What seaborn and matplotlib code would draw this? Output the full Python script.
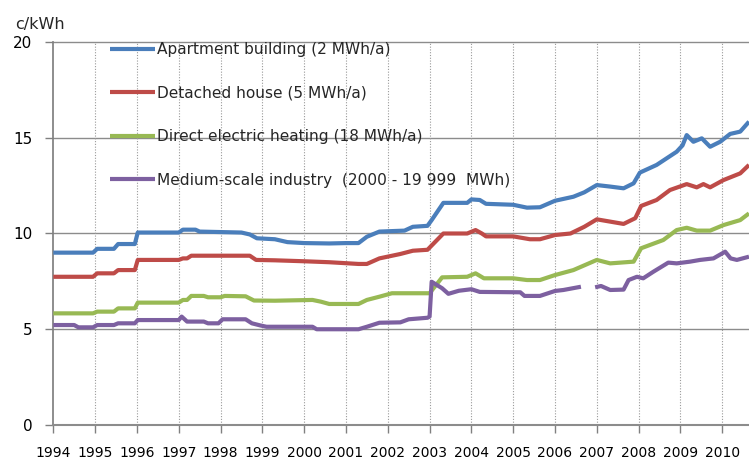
import numpy as np
import pandas as pd
import matplotlib
matplotlib.use("Agg")
import matplotlib.pyplot as plt
import seaborn as sns

# Electricity prices, c/kWh
apartment_years = [1994.0, 1994.95, 1995.05, 1995.45, 1995.55, 1995.95, 1996.02, 1997.0, 1997.1, 1997.4,
                   1997.5, 1998.5, 1998.7, 1998.87, 1999.3, 1999.6, 2000.0, 2000.6, 2001.0, 2001.3,
                   2001.5, 2001.8, 2002.4, 2002.6, 2002.95, 2003.05, 2003.33, 2003.9, 2004.0, 2004.2,
                   2004.35, 2005.0, 2005.33, 2005.64, 2006.0, 2006.44, 2006.7, 2007.0, 2007.32, 2007.64,
                   2007.88, 2008.03, 2008.43, 2008.91, 2009.05, 2009.15, 2009.31, 2009.51, 2009.71, 2009.95,
                   2010.19, 2010.43, 2010.64]
apartment = [9.0, 9.0, 9.2, 9.2, 9.45, 9.45, 10.05, 10.05, 10.2, 10.2,
             10.1, 10.05, 9.95, 9.75, 9.7, 9.55, 9.5, 9.48, 9.5, 9.5,
             9.83, 10.1, 10.15, 10.35, 10.4, 10.7, 11.6, 11.6, 11.78, 11.75,
             11.55, 11.5, 11.35, 11.37, 11.71, 11.92, 12.15, 12.53, 12.45, 12.36,
             12.62, 13.18, 13.58, 14.27, 14.6, 15.14, 14.79, 14.97, 14.53, 14.79,
             15.2, 15.32, 15.84]

detached_years = [1994.0, 1994.95, 1995.05, 1995.45, 1995.55, 1995.95, 1996.02, 1997.0, 1997.1, 1997.2,
                  1997.3, 1998.7, 1998.85, 1999.3, 2000.0, 2000.6, 2001.3, 2001.5, 2001.8, 2002.3,
                  2002.6, 2002.95, 2003.33, 2003.9, 2004.1, 2004.25, 2004.35, 2005.0, 2005.4, 2005.64,
                  2006.0, 2006.37, 2006.7, 2007.0, 2007.32, 2007.64, 2007.92, 2008.06, 2008.43, 2008.75,
                  2009.15, 2009.39, 2009.55, 2009.71, 2010.03, 2010.43, 2010.64]
detached = [7.74, 7.74, 7.92, 7.92, 8.09, 8.09, 8.62, 8.62, 8.7, 8.7,
            8.84, 8.84, 8.62, 8.6, 8.55, 8.5, 8.41, 8.41, 8.7, 8.93,
            9.1, 9.15, 10.0, 10.0, 10.18, 10.0, 9.85, 9.85, 9.7, 9.7,
            9.92, 10.0, 10.35, 10.74, 10.62, 10.5, 10.8, 11.44, 11.75, 12.27,
            12.58, 12.41, 12.58, 12.41, 12.79, 13.14, 13.58]

heating_years = [1994.0, 1994.95, 1995.05, 1995.45, 1995.55, 1995.95, 1996.02, 1997.0, 1997.1, 1997.2,
                 1997.3, 1997.6, 1997.7, 1998.0, 1998.1, 1998.6, 1998.8, 1999.3, 2000.2, 2000.4,
                 2000.6, 2001.3, 2001.5, 2001.8, 2002.1, 2003.0, 2003.3, 2003.9, 2004.1, 2004.3,
                 2005.0, 2005.33, 2005.64, 2006.0, 2006.44, 2007.0, 2007.32, 2007.88, 2008.06, 2008.59,
                 2008.91, 2009.15, 2009.39, 2009.71, 2010.03, 2010.43, 2010.64]
heating = [5.83, 5.83, 5.92, 5.92, 6.09, 6.09, 6.39, 6.39, 6.53, 6.53,
           6.74, 6.74, 6.67, 6.67, 6.74, 6.72, 6.5, 6.49, 6.53, 6.44,
           6.32, 6.32, 6.53, 6.7, 6.88, 6.88, 7.71, 7.74, 7.92, 7.66,
           7.66, 7.57, 7.57, 7.83, 8.09, 8.62, 8.44, 8.53, 9.23, 9.66,
           10.18, 10.3, 10.15, 10.15, 10.44, 10.7, 11.05]

industry_years = [1994.0, 1994.5, 1994.6, 1994.95, 1995.05, 1995.45, 1995.55, 1995.95, 1996.02, 1997.0,
                  1997.07, 1997.2, 1997.6, 1997.7, 1997.95, 1998.05, 1998.6, 1998.75, 1998.95, 1999.1,
                  2000.2, 2000.3, 2001.3, 2001.5, 2001.8, 2002.3, 2002.5, 2002.95, 2003.0, 2003.05,
                  2003.3, 2003.45, 2003.7, 2004.0, 2004.2, 2005.17, 2005.27, 2005.64, 2006.0, 2006.2,
                  2006.62, 2006.8, 2006.96, 2007.1, 2007.32, 2007.64, 2007.76, 2007.96, 2008.11, 2008.35,
                  2008.71, 2008.91, 2009.23, 2009.47, 2009.79, 2010.07, 2010.2, 2010.35, 2010.64]
industry = [5.22, 5.22, 5.1, 5.1, 5.22, 5.22, 5.31, 5.31, 5.48, 5.48,
            5.66, 5.4, 5.4, 5.31, 5.31, 5.52, 5.52, 5.31, 5.2, 5.13,
            5.13, 5.0, 5.0, 5.13, 5.34, 5.36, 5.52, 5.6, 5.66, 7.48,
            7.14, 6.85, 7.01, 7.09, 6.95, 6.93, 6.74, 6.74, 7.0, 7.05,
            7.22, np.nan, 7.19, 7.26, 7.05, 7.07, 7.57, 7.74, 7.66, 8.0,
            8.48, 8.44, 8.53, 8.62, 8.7, 9.05, 8.7, 8.62, 8.79]

labels = ["Apartment building (2 MWh/a)", "Detached house (5 MWh/a)",
          "Direct electric heating (18 MWh/a)", "Medium-scale industry  (2000 - 19 999  MWh)"]
colors = ["#4a7ebb", "#be4b48", "#98b954", "#7d60a0"]
year_ticks = list(range(1994, 2011))

sns.set_theme(style="white")
plt.rcParams["font.family"] = ["DejaVu Sans"]

fig = plt.figure(figsize=(7.49, 4.59), dpi=100)
ax = fig.add_axes([53.3 / 749, 1 - 425 / 459, (749 - 53.3) / 749, (425 - 42) / 459])

series = [(apartment_years, apartment), (detached_years, detached),
          (heating_years, heating), (industry_years, industry)]
for (xs, ys), lab, col in zip(series, labels, colors):
    df = pd.DataFrame({"year": xs, "price": ys})
    # split on missing values so gaps stay visible
    df["seg"] = df["price"].isna().cumsum()
    df = df.dropna()
    for i, (_, part) in enumerate(df.groupby("seg")):
        sns.lineplot(data=part, x="year", y="price", ax=ax, color=col, lw=3,
                     label=lab if i == 0 else None, estimator=None, sort=False,
                     solid_capstyle="butt", zorder=3)

ax.set_xlim(1994, 2010.64)
ax.set_ylim(0, 20)
ax.set_xticks(year_ticks)
ax.set_xticklabels([str(y) for y in year_ticks], fontsize=10)
ax.set_yticks([0, 5, 10, 15, 20])
ax.set_yticklabels(["0", "5", "10", "15", "20"], fontsize=11)
ax.set_xlabel("")
ax.set_ylabel("")

for y in [5, 10, 15, 20]:
    ax.axhline(y, color="#8c8c8c", lw=1, zorder=1, clip_on=False)
for yr in year_ticks[1:]:
    ax.axvline(yr, color="#9a9a9a", lw=0.8, ls=(0, (1, 1.5)), zorder=1)

for side in ["top", "right"]:
    ax.spines[side].set_visible(False)
ax.spines["left"].set_color("#808080")
ax.spines["bottom"].set_color("#8c8c8c")
ax.spines["bottom"].set_linewidth(1.5)
ax.tick_params(axis="both", which="major", direction="out", length=6, width=1,
               color="#808080", colors="black", bottom=True, left=True)
ax.tick_params(axis="y", pad=9)
ax.tick_params(axis="x", pad=9)

fig.text(15 / 749, 1 - 25 / 459, "c/kWh", fontsize=11.5, ha="left", va="center")

ax.legend(loc="upper left", bbox_to_anchor=(110 / 749, 1 - 42 / 459),
          bbox_transform=fig.transFigure, frameon=False, fontsize=11.1,
          handlelength=2.95, handletextpad=0.1, labelspacing=1.85,
          borderpad=0, borderaxespad=0)

fig.savefig("out.png", dpi=100)
